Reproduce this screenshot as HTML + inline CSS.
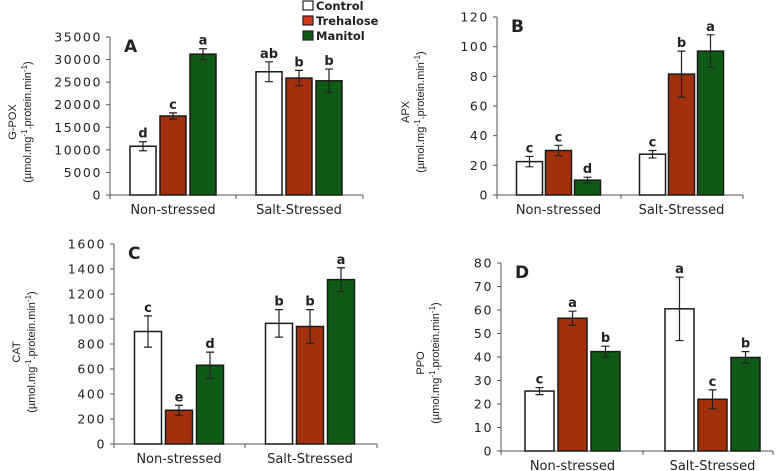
<!DOCTYPE html>
<html><head><meta charset="utf-8"><style>
html,body{margin:0;padding:0;background:#fff;}
svg{display:block;font-family:"Liberation Sans",sans-serif;}
</style></head><body>
<svg id="chart" width="777" height="471" viewBox="0 0 777 471" xmlns="http://www.w3.org/2000/svg">
<g font-family="DejaVu Sans, sans-serif">
 <rect x="303" y="1" width="10" height="9" fill="#fff" stroke="#222" stroke-width="1.2"/>
 <text x="316" y="10" font-size="11.5" font-weight="bold" fill="#222">Control</text>
 <rect x="303" y="16" width="10" height="9" fill="#d63a1c" stroke="#222" stroke-width="1.2"/>
 <text x="316" y="25" font-size="11.5" font-weight="bold" fill="#222">Trehalose</text>
 <rect x="303" y="31" width="10" height="9" fill="#0f5a14" stroke="#222" stroke-width="1.2"/>
 <text x="316" y="40" font-size="11.5" font-weight="bold" fill="#222">Manitol</text>
</g>
</svg>
<script>
const categories = ["Non-stressed", "Salt-Stressed"];
const series = ["Control", "Trehalose", "Manitol"];
const gpoxValues = [[10800, 17500, 31200], [27300, 25900, 25300]];
const gpoxErrors = [[1000, 700, 1200], [2200, 1700, 2600]];
const gpoxLetters = [["d", "c", "a"], ["ab", "b", "b"]];
const gpoxTicks = [0, 5000, 10000, 15000, 20000, 25000, 30000, 35000];
const apxValues = [[22.5, 30, 10], [27.5, 81.5, 97]];
const apxErrors = [[3.5, 3.5, 2], [2.5, 15.5, 11]];
const apxLetters = [["c", "c", "d"], ["c", "b", "a"]];
const apxTicks = [0, 20, 40, 60, 80, 100, 120];
const catValues = [[900, 270, 630], [965, 940, 1315]];
const catErrors = [[125, 40, 105], [110, 135, 95]];
const catLetters = [["c", "e", "d"], ["b", "b", "a"]];
const catTicks = [0, 200, 400, 600, 800, 1000, 1200, 1400, 1600];
const ppoValues = [[25.5, 56.5, 42.3], [60.5, 22, 39.8]];
const ppoErrors = [[1.5, 3, 2.3], [13.5, 4, 2.5]];
const ppoLetters = [["c", "a", "b"], ["a", "c", "b"]];
const ppoTicks = [0, 10, 20, 30, 40, 50, 60, 70, 80];

const fills = ["#ffffff", "#a3300c", "#0f5a14"];
const svg = document.getElementById('chart');
const NS = "http://www.w3.org/2000/svg";
const WIDE = "DejaVu Sans, sans-serif";
function mk(tag, attrs, parent) {
  const e = document.createElementNS(NS, tag);
  for (const k in attrs) e.setAttribute(k, attrs[k]);
  (parent || svg).appendChild(e);
  return e;
}
function panel(cfg, values, errors, letters, ticks) {
  const g = mk('g', {});
  
  
  const max = ticks[ticks.length - 1];
  const y = v => cfg.y0 - (v / max) * (cfg.y0 - cfg.yTop);
  const ya = mk('line', {x1: cfg.x0, x2: cfg.x0, y1: cfg.yTop, y2: cfg.y0, stroke: '#555', 'stroke-width': 1}, g);
  
  
  const xa = mk('line', {x1: cfg.x0, x2: cfg.x1, y1: cfg.y0, y2: cfg.y0, stroke: '#555', 'stroke-width': 1}, g);
  
  
  ticks.forEach(t => {
    const ty = y(t);
    mk('line', {x1: cfg.x0 - 4, x2: cfg.x0, y1: ty, y2: ty, stroke: '#555'}, g);
    const tl = mk('text', {x: cfg.x0 - 8, y: ty + 4.5, 'text-anchor': 'end', 'font-size': 12.5, 'letter-spacing': 1.6, 'font-family': WIDE, fill: '#222'}, g);
    tl.textContent = t;
    
    
  });
  [cfg.x0, cfg.sep, cfg.x1].forEach(sx => mk('line', {x1: sx, x2: sx, y1: cfg.y0, y2: cfg.y0 + 4, stroke: '#555'}, g));
  categories.forEach((c, ci) => {
    const cx = cfg.centers[ci];
    const cl = mk('text', {x: cx, y: cfg.y0 + 19, 'text-anchor': 'middle', 'font-size': 13, 'font-family': WIDE, fill: '#222'}, g);
    cl.textContent = c;
    
    
    series.forEach((s, si) => {
      const bx = cx + (si - 1) * cfg.step - cfg.bw / 2;
      const v = values[ci][si], e = errors[ci][si];
      const b = mk('rect', {x: bx, y: y(v), width: cfg.bw, height: cfg.y0 - y(v), fill: fills[si], stroke: '#1a1a1a', 'stroke-width': 1.5}, g);
      
      
      const mx = bx + cfg.bw / 2;
      const eb = mk('path', {d: `M${mx},${y(v + e)}V${y(v - e)}M${mx - 4},${y(v + e)}H${mx + 4}M${mx - 4},${y(v - e)}H${mx + 4}`, stroke: '#222', 'stroke-width': 1.2, fill: 'none'}, g);
      
      
      const lt = mk('text', {x: mx, y: y(v + e) - 4, 'text-anchor': 'middle', 'font-size': 13, 'font-weight': 'bold', 'font-family': WIDE, fill: '#222'}, g);
      lt.textContent = letters[ci][si];
      
      
    });
  });
  const pl = mk('text', {x: cfg.x0 + 14, y: cfg.yTop + 15, 'font-size': 17, 'font-weight': 'bold', 'font-family': WIDE, fill: '#222'}, g);
  pl.textContent = cfg.id;
  
  
  const tg = mk('g', {transform: `translate(${cfg.tx},${cfg.ty}) rotate(-90)`}, g);
  
  
  const t1 = mk('text', {x: 0, y: 0, 'text-anchor': 'middle', 'font-size': 11, fill: '#222'}, tg);
  t1.textContent = cfg.title;
  const t2 = mk('text', {x: 0, y: 15, 'text-anchor': 'middle', 'font-size': 11, fill: '#222'}, tg);
  t2.innerHTML = '(µmol.mg<tspan dy="-4" font-size="8">-1</tspan><tspan dy="4">.protein.min</tspan><tspan dy="-4" font-size="8">-1</tspan><tspan dy="4">)</tspan>';
}
panel({id: 'A', x0: 110, x1: 363, y0: 195, yTop: 37, sep: 236, centers: [173, 299], step: 30, bw: 26, title: 'G-POX', tx: 16, ty: 122}, gpoxValues, gpoxErrors, gpoxLetters, gpoxTicks);
panel({id: 'B', x0: 497, x1: 743, y0: 195, yTop: 17, sep: 621, centers: [558.5, 681.5], step: 29, bw: 26, title: 'APX', tx: 409, ty: 112}, apxValues, apxErrors, apxLetters, apxTicks);
panel({id: 'C', x0: 114, x1: 377, y0: 444, yTop: 244, sep: 245, centers: [179, 310], step: 31, bw: 27, title: 'CAT', tx: 20, ty: 352}, catValues, catErrors, catLetters, catTicks);
panel({id: 'D', x0: 501, x1: 773, y0: 451, yTop: 263, sep: 643, centers: [572.5, 712.5], step: 33, bw: 29, title: 'PPO', tx: 424, ty: 363}, ppoValues, ppoErrors, ppoLetters, ppoTicks);
</script>
</body></html>
